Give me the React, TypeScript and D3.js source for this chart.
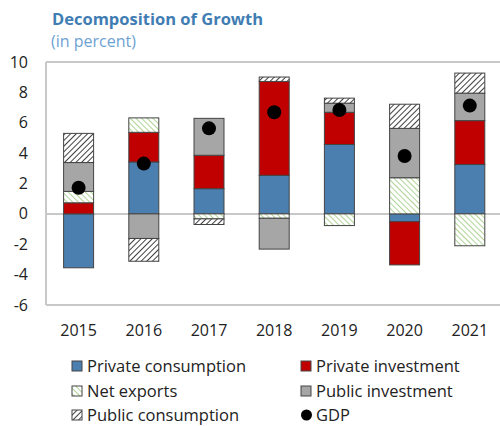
import React, { useEffect, useRef } from 'react';
import * as d3 from 'd3';

const years = ['2015', '2016', '2017', '2018', '2019', '2020', '2021'];
const privateConsumption = [-3.55, 3.42, 1.66, 2.54, 4.57, -0.51, 3.25];
const privateInvestment = [0.73, 1.95, 2.2, 6.18, 2.12, -2.85, 2.89];
const netExports = [0.75, 0.95, -0.33, -0.29, -0.77, 2.38, -2.1];
const publicInvestment = [1.9, -1.62, 2.43, -2.03, 0.6, 3.25, 1.81];
const publicConsumption = [1.92, -1.5, -0.37, 0.29, 0.33, 1.59, 1.32];
const gdp = [1.72, 3.31, 5.63, 6.69, 6.84, 3.81, 7.13];
const yTicks = [-6, -4, -2, 0, 2, 4, 6, 8, 10];

const seriesKeys = ['pc', 'pi', 'nx', 'pubi', 'pubc'];
const seriesNames: Record<string, string> = {
  pc: 'Private consumption',
  pi: 'Private investment',
  nx: 'Net exports',
  pubi: 'Public investment',
  pubc: 'Public consumption',
};
const fills: Record<string, string> = {
  pc: '#4a7fb0',
  pi: '#c00000',
  nx: 'url(#hatch-green)',
  pubi: '#a6a6a6',
  pubc: 'url(#hatch-black)',
};

const App = () => {
  const svgRef = useRef<SVGSVGElement>(null);

  useEffect(() => {
    const width = 500;
    const height = 426;
    const font = '"Open Sans", "Noto Sans", sans-serif';

    const svg = d3.select(svgRef.current);
    svg.selectAll('*').remove();
    svg.attr('width', width).attr('height', height);

    // hatch patterns
    const defs = svg.append('defs');
    const green = defs.append('pattern')
      .attr('id', 'hatch-green')
      .attr('patternUnits', 'userSpaceOnUse')
      .attr('width', 4).attr('height', 4)
      .attr('patternTransform', 'rotate(-45)');
    green.append('rect').attr('width', 4).attr('height', 4).attr('fill', '#fff');
    green.append('line').attr('x1', 0).attr('y1', 0).attr('x2', 0).attr('y2', 4)
      .attr('stroke', '#9cc97e').attr('stroke-width', 1.6);

    const black = defs.append('pattern')
      .attr('id', 'hatch-black')
      .attr('patternUnits', 'userSpaceOnUse')
      .attr('width', 4).attr('height', 4)
      .attr('patternTransform', 'rotate(45)');
    black.append('rect').attr('width', 4).attr('height', 4).attr('fill', '#fff');
    black.append('line').attr('x1', 0).attr('y1', 0).attr('x2', 0).attr('y2', 4)
      .attr('stroke', '#111').attr('stroke-width', 1.6);

    // title
    svg.append('text')
      .attr('x', 52).attr('y', 25)
      .attr('font-family', font).attr('font-size', 16.5).attr('font-weight', 700)
      .attr('fill', '#3f7db3')
      .text('Decomposition of Growth');
    svg.append('text')
      .attr('x', 51).attr('y', 47)
      .attr('font-family', font).attr('font-size', 16)
      .attr('fill', '#6da2d2')
      .text('(in percent)');

    const left = 46;
    const x = d3.scaleBand().domain(years).range([left, left + 7 * 65.2]).paddingInner(0.54).paddingOuter(0.27);
    const y = d3.scaleLinear().domain([-6, 10]).range([305, 62]);

    // frame
    const frame = svg.append('g').attr('stroke', '#c8c8c8').attr('stroke-width', 2).attr('fill', 'none');
    frame.append('line').attr('x1', left).attr('x2', width).attr('y1', y(10)).attr('y2', y(10));
    frame.append('line').attr('x1', left).attr('x2', width).attr('y1', y(-6)).attr('y2', y(-6));
    frame.append('line').attr('x1', left).attr('x2', left).attr('y1', y(10)).attr('y2', y(-6));
    frame.append('line').attr('x1', left).attr('x2', width).attr('y1', y(0)).attr('y2', y(0));

    // y labels
    svg.append('g').selectAll('text')
      .data(yTicks)
      .enter().append('text')
      .attr('x', 28).attr('y', d => y(d))
      .attr('dy', '0.35em')
      .attr('text-anchor', 'end')
      .attr('font-family', font).attr('font-size', 16)
      .attr('fill', '#222')
      .text(d => String(d));

    // x labels
    svg.append('g').selectAll('text')
      .data(years)
      .enter().append('text')
      .attr('x', d => (x(d) as number) + x.bandwidth() / 2)
      .attr('y', 330).attr('dy', '0.35em')
      .attr('text-anchor', 'middle')
      .attr('font-family', font).attr('font-size', 16)
      .attr('fill', '#222')
      .text(d => d);

    const rows = years.map((yr, i) => ({
      year: yr,
      pc: privateConsumption[i],
      pi: privateInvestment[i],
      nx: netExports[i],
      pubi: publicInvestment[i],
      pubc: publicConsumption[i],
    }));

    const stacked = d3.stack<any>().keys(seriesKeys).offset(d3.stackOffsetDiverging)(rows);

    svg.append('g').selectAll('g')
      .data(stacked)
      .enter().append('g')
      .attr('fill', d => fills[d.key])
      .selectAll('rect')
      .data(d => d)
      .enter().append('rect')
      .attr('x', d => x(d.data.year) as number)
      .attr('width', x.bandwidth())
      .attr('y', d => y(Math.max(d[0], d[1])))
      .attr('height', d => Math.abs(y(d[0]) - y(d[1])))
      .attr('stroke', '#444')
      .attr('stroke-width', 1);

    // GDP dots
    svg.append('g').selectAll('circle')
      .data(gdp)
      .enter().append('circle')
      .attr('cx', (d, i) => (x(years[i]) as number) + x.bandwidth() / 2)
      .attr('cy', d => y(d))
      .attr('r', 7)
      .attr('fill', '#000');

    // legend
    const legendItems = [
      { key: 'pc', col: 0, row: 0 },
      { key: 'pi', col: 1, row: 0 },
      { key: 'nx', col: 0, row: 1 },
      { key: 'pubi', col: 1, row: 1 },
      { key: 'pubc', col: 0, row: 2 },
      { key: 'gdp', col: 1, row: 2 },
    ];
    const colX = [72, 301];
    const rowY = [366, 391, 415];
    const legend = svg.append('g');
    legendItems.forEach(item => {
      const lx = colX[item.col];
      const ly = rowY[item.row];
      if (item.key === 'gdp') {
        legend.append('circle').attr('cx', lx + 5.5).attr('cy', ly).attr('r', 5.5).attr('fill', '#000');
      } else {
        legend.append('rect')
          .attr('x', lx).attr('y', ly - 5).attr('width', 10).attr('height', 10)
          .attr('fill', fills[item.key]).attr('stroke', '#444').attr('stroke-width', 1);
      }
      legend.append('text')
        .attr('x', lx + 15).attr('y', ly).attr('dy', '0.35em')
        .attr('font-family', font).attr('font-size', 16.5)
        .attr('fill', '#222')
        .text(item.key === 'gdp' ? 'GDP' : seriesNames[item.key]);
    });
  }, []);

  return <svg ref={svgRef} style={{ position: 'absolute', left: 0, top: 0 }} />;
};

export default App;
